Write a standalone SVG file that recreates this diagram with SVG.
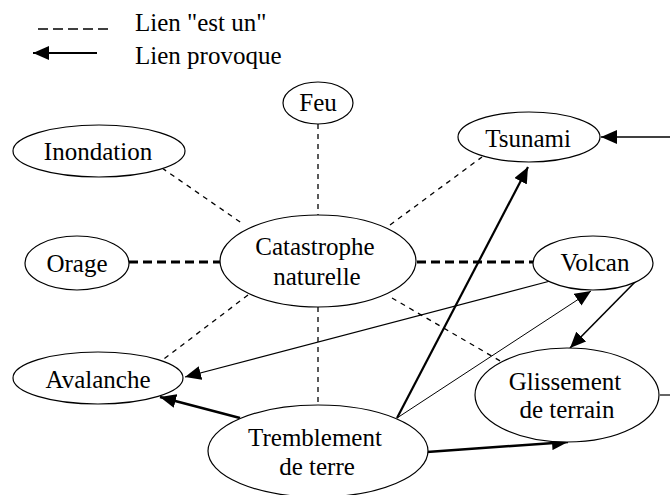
<svg xmlns="http://www.w3.org/2000/svg" width="670" height="495" viewBox="0 0 670 495">
<style>
.n ellipse{fill:#fff;stroke:#000;stroke-width:1.2}
text{font-family:"Liberation Serif","Times New Roman",serif;font-size:25px;fill:#000}
.n text{text-anchor:middle}
.d{stroke:#000;stroke-width:1.3;stroke-dasharray:5,5;fill:none}
.D{stroke:#000;stroke-width:3;stroke-dasharray:9,5;fill:none}
.a{stroke:#000;fill:none;marker-end:url(#arr)}
</style>
<defs>
<marker id="arr" markerUnits="userSpaceOnUse" markerWidth="17" markerHeight="14" refX="16" refY="7" orient="auto">
<path d="M0,0 L16,7 L0,14 z" fill="#000"/>
</marker>
</defs>
<g id="legend">
<line x1="38" y1="29" x2="108" y2="29" stroke="#000" stroke-width="1.3" stroke-dasharray="10,5"/>
<text x="135" y="31">Lien "est un"</text>
<line x1="97" y1="53" x2="33" y2="53" class="a" stroke-width="2"/>
<text x="135" y="64">Lien provoque</text>
</g>
<g id="connectors">
<line class="d" x1="318" y1="124" x2="318" y2="215"/>
<line class="d" x1="162" y1="168" x2="243" y2="224"/>
<line class="D" x1="129" y1="262" x2="220" y2="262"/>
<line class="D" x1="417" y1="262" x2="533" y2="262"/>
<line class="d" x1="390" y1="225" x2="482" y2="157"/>
<line class="d" x1="318" y1="307" x2="318" y2="405"/>
<line class="d" x1="248" y1="295" x2="160" y2="362"/>
<line class="d" x1="392" y1="298" x2="502" y2="362"/>
<line class="a" stroke-width="1.3" x1="670" y1="137" x2="601" y2="137"/>
<line class="a" stroke-width="2.2" x1="397" y1="418" x2="528" y2="167"/>
<line class="a" stroke-width="1" x1="397" y1="418" x2="591" y2="291"/>
<line class="a" stroke-width="1.2" x1="554" y1="280" x2="185" y2="377"/>
<line class="a" stroke-width="1.6" x1="637" y1="280" x2="570" y2="348"/>
<line class="a" stroke-width="2.5" x1="240" y1="418" x2="160" y2="397"/>
<line class="a" stroke-width="2.5" x1="427" y1="452" x2="568" y2="442"/>
<line stroke="#000" stroke-width="1.2" x1="660" y1="395" x2="670" y2="395"/>
</g>
<g id="feu" class="n"><ellipse cx="318" cy="103" rx="35" ry="21"/><text x="318" y="111">Feu</text></g>
<g id="inondation" class="n"><ellipse cx="99" cy="151" rx="86" ry="26"/><text x="98" y="160">Inondation</text></g>
<g id="orage" class="n"><ellipse cx="77" cy="263" rx="52" ry="27"/><text x="77" y="272">Orage</text></g>
<g id="catastrophe" class="n"><ellipse cx="318" cy="261" rx="98" ry="46"/><text x="315" y="255">Catastrophe</text><text x="317" y="285">naturelle</text></g>
<g id="tsunami" class="n"><ellipse cx="529" cy="137" rx="71" ry="25"/><text x="528" y="147">Tsunami</text></g>
<g id="volcan" class="n"><ellipse cx="593" cy="263" rx="60" ry="27"/><text x="595" y="271">Volcan</text></g>
<g id="avalanche" class="n"><ellipse cx="98" cy="378" rx="85" ry="26"/><text x="98" y="388">Avalanche</text></g>
<g id="tremblement" class="n"><ellipse cx="318" cy="451" rx="110" ry="46"/><text x="315" y="446">Tremblement</text><text x="317" y="475">de terre</text></g>
<g id="glissement" class="n"><ellipse cx="567" cy="395" rx="92" ry="47"/><text x="565" y="390">Glissement</text><text x="567" y="418">de terrain</text></g>
</svg>
